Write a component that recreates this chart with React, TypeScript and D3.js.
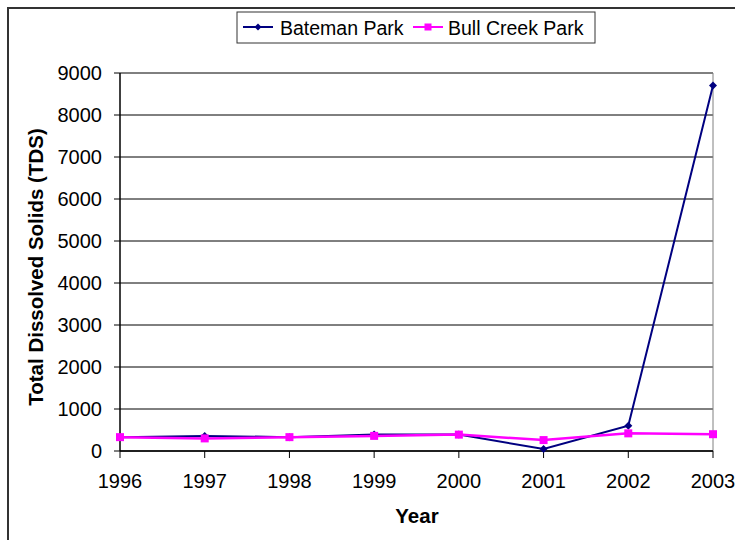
import React from "react";
import * as d3 from "d3";

const years = [1996, 1997, 1998, 1999, 2000, 2001, 2002, 2003];
const batemanPark = [330, 360, 330, 390, 390, 50, 600, 8700];
const bullCreekPark = [330, 300, 330, 360, 390, 260, 420, 400];
const yTicks = [0, 1000, 2000, 3000, 4000, 5000, 6000, 7000, 8000, 9000];

const W = 735;
const H = 540;
const left = 120;
const right = 713;
const top = 73;
const bottom = 451;

export default function App() {
  const x = d3.scaleLinear().domain([1996, 2003]).range([left, right]);
  const y = d3.scaleLinear().domain([0, 9000]).range([bottom, top]);
  const line = d3
    .line<number>()
    .x((_, i) => x(years[i]))
    .y((d) => y(d));
  const font = "'Liberation Sans', Arial, sans-serif";
  const navy = "#000080";
  const magenta = "#FF00FF";

  const diamond = (cx: number, cy: number, r: number) =>
    `M${cx},${cy - r}L${cx + r},${cy}L${cx},${cy + r}L${cx - r},${cy}Z`;

  return (
    <svg
      width={W}
      height={H}
      style={{ position: "absolute", left: 0, top: 0, background: "#fff" }}
      fontFamily={font}
    >
      <rect x={8} y={8} width={W + 20} height={H + 20} fill="#fff" stroke="#333" strokeWidth={2} />
      {/* gridlines */}
      {yTicks.map((t) => (
        <line key={t} x1={left} x2={right} y1={y(t)} y2={y(t)} stroke="#000" strokeWidth={1} />
      ))}
      {/* plot right border */}
      <line x1={right} x2={right} y1={top} y2={bottom} stroke="#808080" strokeWidth={1} />
      {/* y axis */}
      <line x1={left} x2={left} y1={top} y2={bottom} stroke="#000" strokeWidth={1.5} />
      {yTicks.map((t) => (
        <g key={"yt" + t}>
          <line x1={left - 6} x2={left} y1={y(t)} y2={y(t)} stroke="#000" strokeWidth={1} />
          <text x={102} y={y(t) + 7} textAnchor="end" fontSize={20}>
            {t}
          </text>
        </g>
      ))}
      {/* x axis */}
      <line x1={left} x2={right} y1={bottom} y2={bottom} stroke="#000" strokeWidth={1.5} />
      {years.map((yr) => (
        <g key={"xt" + yr}>
          <line x1={x(yr)} x2={x(yr)} y1={bottom} y2={bottom + 7} stroke="#000" strokeWidth={1} />
          <text x={x(yr)} y={488} textAnchor="middle" fontSize={20}>
            {yr}
          </text>
        </g>
      ))}
      <text x={417} y={523} textAnchor="middle" fontSize={20.5} fontWeight="bold">
        Year
      </text>
      <text
        transform={`translate(43,267) rotate(-90)`}
        textAnchor="middle"
        fontSize={20.5}
        fontWeight="bold"
      >
        Total Dissolved Solids (TDS)
      </text>
      {/* series */}
      <path d={line(batemanPark) || ""} fill="none" stroke={navy} strokeWidth={2} />
      {batemanPark.map((v, i) => (
        <path key={"b" + i} d={diamond(x(years[i]), y(v), 4)} fill={navy} />
      ))}
      <path d={line(bullCreekPark) || ""} fill="none" stroke={magenta} strokeWidth={2.5} />
      {bullCreekPark.map((v, i) => (
        <rect key={"c" + i} x={x(years[i]) - 4} y={y(v) - 4} width={8} height={8} fill={magenta} />
      ))}
      {/* legend */}
      <rect x={237} y={12} width={358} height={31} fill="#fff" stroke="#333" strokeWidth={1} />
      <line x1={243} x2={273} y1={27} y2={27} stroke={navy} strokeWidth={2} />
      <path d={diamond(258, 27, 3.5)} fill={navy} />
      <text x={280} y={35} fontSize={19.5}>
        Bateman Park
      </text>
      <line x1={413} x2={443} y1={27} y2={27} stroke={magenta} strokeWidth={2} />
      <rect x={424.5} y={23.5} width={7} height={7} fill={magenta} />
      <text x={448} y={35} fontSize={19.5}>
        Bull Creek Park
      </text>
    </svg>
  );
}
